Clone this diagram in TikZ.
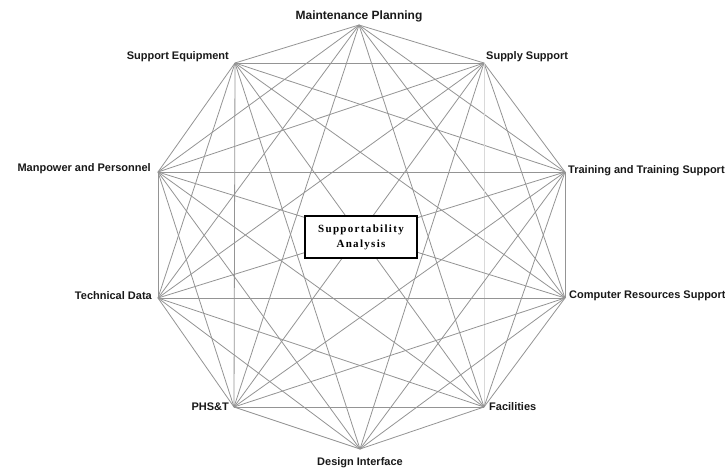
\documentclass[tikz,border=0pt]{standalone}
\usepackage{fontspec}
\setmainfont{Liberation Sans}
\newfontfamily\boxfont[LetterSpace=12]{Liberation Serif}
\begin{document}
\begin{tikzpicture}[x=1pt,y=-1pt,
  edge/.style={draw=black!42,line width=0.8pt},
  lbl/.style={inner sep=0pt,font=\bfseries\fontsize{11}{13}\selectfont,text=black!90},
  centerbox/.style={draw=black,line width=1.2pt,fill=white,minimum width=112pt,minimum height=42pt,inner sep=2pt,align=center,font=\boxfont\bfseries\fontsize{11}{15}\selectfont}]
\useasboundingbox (0,0) rectangle (725,471);
\fill[white] (0,0) rectangle (725,471);
% vertices
\coordinate (mp) at (359,25);
\coordinate (se) at (235,63);
\coordinate (ss) at (484,63);
\coordinate (mpe) at (158,172);
\coordinate (tt) at (565,172);
\coordinate (td) at (158,298);
\coordinate (cr) at (565,298);
\coordinate (ph) at (234,407);
\coordinate (fa) at (484,407);
\coordinate (di) at (360,449);
% connectors
\foreach \a [count=\i] in {mp,se,ss,mpe,tt,td,cr,ph,fa,di}{
  \foreach \b [count=\j] in {mp,se,ss,mpe,tt,td,cr,ph,fa,di}{
    \ifnum\j>\i
      \ifnum\numexpr\i*100+\j\relax=110 \else
        \ifnum\numexpr\i*100+\j\relax=309
          \draw[edge,draw=black!15] (\a) -- (\b);
        \else
          \draw[edge] (\a) -- (\b);
        \fi
      \fi
    \fi
  }
}
% centre box
\node[centerbox] (sa) at (361,237) {Supportability\\Analysis};
% labels
\node[lbl,font=\bfseries\fontsize{12}{14}\selectfont] (lmp) at (359,16) {Maintenance Planning};
\node[lbl,anchor=east] (lse) at (229,57) {Support Equipment};
\node[lbl,anchor=west] (lss) at (486,57) {Supply Support};
\node[lbl,anchor=east] (lmpe) at (151,169) {Manpower and Personnel};
\node[lbl,anchor=west] (ltt) at (568,171) {Training and Training Support};
\node[lbl,anchor=east] (ltd) at (152,296) {Technical Data};
\node[lbl,anchor=west] (lcr) at (569,296) {Computer Resources Support};
\node[lbl,anchor=east] (lph) at (229,407) {PHS\&T};
\node[lbl,anchor=west] (lfa) at (489,407) {Facilities};
\node[lbl] (ldi) at (360,463) {Design Interface};
\end{tikzpicture}
\end{document}
